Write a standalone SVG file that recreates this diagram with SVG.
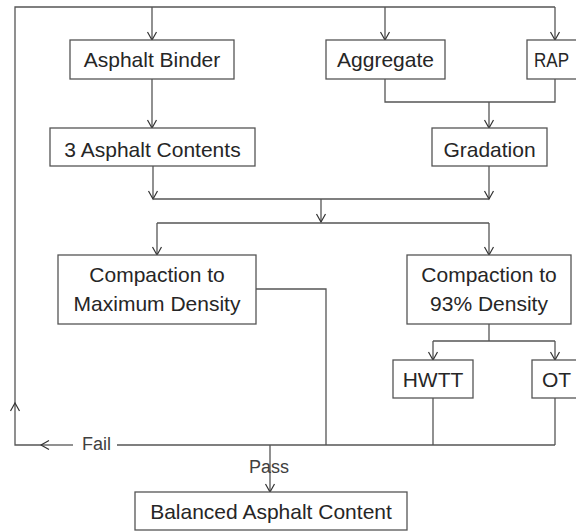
<svg xmlns="http://www.w3.org/2000/svg" width="576" height="531" viewBox="0 0 576 531">
<style>
.box{fill:#fff;stroke:#555;stroke-width:1.3}
.t{font-family:"Liberation Sans",Arial,sans-serif;font-size:21px;fill:#262626;text-anchor:middle}
.s{font-family:"Liberation Sans",Arial,sans-serif;font-size:18px;fill:#404040}
.c{fill:none;stroke:#555;stroke-width:1.3}
.ca{fill:none;stroke:#555;stroke-width:1.3;marker-end:url(#a)}
</style>
<defs>
<marker id="a" viewBox="-10 -6 12 12" refX="0" refY="0" markerWidth="12" markerHeight="12" markerUnits="userSpaceOnUse" orient="auto">
<path d="M-8,-4.5 L0,0 L-8,4.5" fill="none" stroke="#333" stroke-width="1.2"/>
</marker>
</defs>
<g id="connectors">
<path class="c" d="M15,403 L15,7 L555,7"/>
<path class="ca" d="M152,7 L152,40"/>
<path class="ca" d="M385,7 L385,40"/>
<path class="ca" d="M555,7 L555,40"/>
<path class="ca" d="M152,79 L152,128"/>
<path class="c" d="M385,79 L385,102 L555,102 L555,79"/>
<path class="ca" d="M489,102 L489,128"/>
<path class="ca" d="M153,166 L153,199"/>
<path class="ca" d="M489,166 L489,199"/>
<path class="c" d="M153,199 L489,199"/>
<path class="ca" d="M321,199 L321,222"/>
<path class="c" d="M157,223 L489,223"/>
<path class="ca" d="M157,223 L157,255"/>
<path class="ca" d="M489,223 L489,255"/>
<path class="c" d="M256,289 L326,289 L326,445"/>
<path class="c" d="M489,324 L489,341"/>
<path class="c" d="M433,341 L555,341"/>
<path class="ca" d="M433,341 L433,360"/>
<path class="ca" d="M555,341 L555,360"/>
<path class="c" d="M433,398 L433,445"/>
<path class="c" d="M555,398 L555,445"/>
<path class="c" d="M117,445 L555,445"/>
<path class="ca" d="M73,445 L41,445"/>
<path class="ca" d="M41,445 L15,445 L15,403"/>
<path class="ca" d="M270,445 L270,492"/>
<text class="s" x="82" y="450">Fail</text>
<text class="s" x="249" y="473">Pass</text>
</g>
<g id="asphalt-binder"><rect class="box" x="70" y="40" width="164" height="39"/><text class="t" x="152" y="67">Asphalt Binder</text></g>
<g id="aggregate"><rect class="box" x="326" y="40" width="119" height="39"/><text class="t" x="385.5" y="67">Aggregate</text></g>
<g id="rap"><rect class="box" x="527" y="40" width="60" height="39"/><text class="t" x="534" y="67" style="text-anchor:start" textLength="35" lengthAdjust="spacingAndGlyphs">RAP</text></g>
<g id="asphalt-contents"><rect class="box" x="50" y="128" width="205" height="38"/><text class="t" x="152.5" y="157">3 Asphalt Contents</text></g>
<g id="gradation"><rect class="box" x="432" y="128" width="115" height="38"/><text class="t" x="489.5" y="157">Gradation</text></g>
<g id="compaction-max"><rect class="box" x="58" y="255" width="198" height="69"/><text class="t" x="157" y="282">Compaction to</text><text class="t" x="157" y="311">Maximum Density</text></g>
<g id="compaction-93"><rect class="box" x="407" y="255" width="164" height="69"/><text class="t" x="489" y="282">Compaction to</text><text class="t" x="489" y="311">93% Density</text></g>
<g id="hwtt"><rect class="box" x="393" y="360" width="80" height="38"/><text class="t" x="433" y="387">HWTT</text></g>
<g id="ot"><rect class="box" x="532" y="360" width="60" height="38"/><text class="t" x="542" y="387" style="text-anchor:start">OT</text></g>
<g id="balanced"><rect class="box" x="135" y="492" width="272" height="38"/><text class="t" x="271" y="519">Balanced Asphalt Content</text></g>
</svg>
